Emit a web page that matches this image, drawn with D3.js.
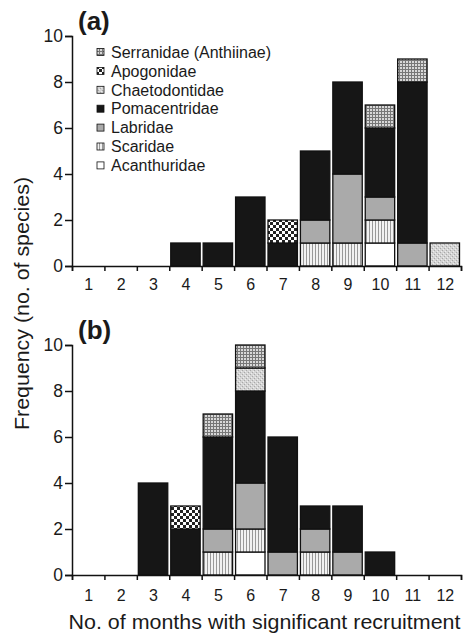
<!DOCTYPE html>
<html><head><meta charset="utf-8">
<script src="https://cdn.jsdelivr.net/npm/d3@7/dist/d3.min.js"></script>
<style>
body{margin:0;background:#fff;}
text{font-family:"Liberation Sans",Arial,sans-serif;fill:#1a1a1a;}
</style></head>
<body><svg id="c" width="463" height="638"></svg>
<script>
const months = [1,2,3,4,5,6,7,8,9,10,11,12];
const families = ["Acanthuridae","Scaridae","Labridae","Pomacentridae","Chaetodontidae","Apogonidae","Serranidae (Anthiinae)"];
const legendOrder = ["Serranidae (Anthiinae)","Apogonidae","Chaetodontidae","Pomacentridae","Labridae","Scaridae","Acanthuridae"];
// panel (a) counts per month, one array per family
const aAcanthuridae   = [0,0,0,0,0,0,0,0,0,1,0,0];
const aScaridae       = [0,0,0,0,0,0,0,1,1,1,0,0];
const aLabridae       = [0,0,0,0,0,0,0,1,3,1,1,0];
const aPomacentridae  = [0,0,0,1,1,3,1,3,4,3,7,0];
const aChaetodontidae = [0,0,0,0,0,0,0,0,0,0,0,1];
const aApogonidae     = [0,0,0,0,0,0,1,0,0,0,0,0];
const aSerranidae     = [0,0,0,0,0,0,0,0,0,1,1,0];
// panel (b)
const bAcanthuridae   = [0,0,0,0,0,1,0,0,0,0,0,0];
const bScaridae       = [0,0,0,0,1,1,0,1,0,0,0,0];
const bLabridae       = [0,0,0,0,1,2,1,1,1,0,0,0];
const bPomacentridae  = [0,0,4,2,4,4,5,1,2,1,0,0];
const bChaetodontidae = [0,0,0,0,0,1,0,0,0,0,0,0];
const bApogonidae     = [0,0,0,1,0,0,0,0,0,0,0,0];
const bSerranidae     = [0,0,0,0,1,1,0,0,0,0,0,0];
const yTicks = [0,2,4,6,8,10];

const svg = d3.select("#c");
const defs = svg.append("defs");
function pat(id,w,h,bg,draw){
  const p = defs.append("pattern").attr("id",id).attr("patternUnits","userSpaceOnUse").attr("width",w).attr("height",h);
  p.append("rect").attr("width",w).attr("height",h).attr("fill",bg);
  draw(p);
}
pat("pSerr",3,3,"#d8d8d8",p=>{
  p.append("rect").attr("x",0).attr("y",0).attr("width",3).attr("height",1).attr("fill","#777");
  p.append("rect").attr("x",0).attr("y",0).attr("width",1).attr("height",3).attr("fill","#777");
});
pat("pApo",6,6,"#fff",p=>{
  p.append("rect").attr("x",0).attr("y",0).attr("width",3).attr("height",3).attr("fill","#222");
  p.append("rect").attr("x",3).attr("y",3).attr("width",3).attr("height",3).attr("fill","#222");
});
pat("pChae",4,4,"#d4d4d4",p=>{
  p.append("rect").attr("x",0).attr("y",0).attr("width",1).attr("height",1).attr("fill","#a8a8a8");
  p.append("rect").attr("x",2).attr("y",2).attr("width",1).attr("height",1).attr("fill","#a8a8a8");
  p.append("rect").attr("x",1).attr("y",3).attr("width",1).attr("height",1).attr("fill","#eee");
  p.append("rect").attr("x",3).attr("y",1).attr("width",1).attr("height",1).attr("fill","#eee");
});
pat("pScar",3,3,"#f2f2f2",p=>{
  p.append("rect").attr("x",0).attr("y",0).attr("width",1).attr("height",3).attr("fill","#999");
});
const fills = {
  "Acanthuridae":"#ffffff",
  "Scaridae":"url(#pScar)",
  "Labridae":"#aaaaaa",
  "Pomacentridae":"#161616",
  "Chaetodontidae":"url(#pChae)",
  "Apogonidae":"url(#pApo)",
  "Serranidae (Anthiinae)":"url(#pSerr)"
};

const x = d3.scaleLinear().domain([0.5,12.5]).range([72,461]);
const bw = x(1)-x(0);
const FONT = "Liberation Sans, Arial, sans-serif";

function panel(data, y0, labelPad, tag){
  const y = d3.scaleLinear().domain([0,10]).range([y0, y0-230]);
  const g = svg.append("g");
  const rows = months.map((m,i)=>{const r={month:m}; families.forEach(f=>r[f]=data[f][i]); return r;});
  const series = d3.stack().keys(families)(rows);
  series.forEach(s=>{
    g.append("g").selectAll("rect").data(s.filter(d=>d[1]>d[0])).join("rect")
      .attr("x",d=>x(d.data.month-0.5)+1.5)
      .attr("width",bw-3)
      .attr("y",d=>y(d[1]))
      .attr("height",d=>y(d[0])-y(d[1]))
      .attr("fill",fills[s.key])
      .attr("stroke","#111").attr("stroke-width",1.3);
  });
  const ya = g.append("g").attr("transform",`translate(${x(0.5)},0)`)
    .call(d3.axisLeft(y).tickValues(yTicks).tickSize(7).tickPadding(2).tickFormat(d3.format("d")));
  ya.select(".domain").attr("stroke","#111").attr("stroke-width",1.5);
  ya.selectAll(".tick line").attr("stroke","#111").attr("stroke-width",1.5);
  ya.selectAll("text").attr("font-size",17.5).attr("font-family",FONT).attr("fill","#1a1a1a");
  const xa = g.append("g").attr("transform",`translate(0,${y0})`)
    .call(d3.axisBottom(x).tickValues(d3.range(0.5,13,1)).tickSize(5).tickFormat(""));
  xa.select(".domain").attr("stroke","#111").attr("stroke-width",1.5);
  xa.selectAll(".tick line").attr("stroke","#111").attr("stroke-width",1.5);
  const xl = g.append("g").attr("transform",`translate(0,${y0})`)
    .call(d3.axisBottom(x).tickValues(months).tickSize(0).tickPadding(labelPad).tickFormat(d3.format("d")));
  xl.select(".domain").remove();
  xl.selectAll("text").attr("font-size",16).attr("font-family",FONT).attr("fill","#1a1a1a");
  g.append("text").attr("x",78).attr("y",y0-236).attr("font-size",26).attr("font-weight","bold").text(tag);
  return y;
}
const dataA = {}, dataB = {};
[["Acanthuridae",aAcanthuridae,bAcanthuridae],["Scaridae",aScaridae,bScaridae],["Labridae",aLabridae,bLabridae],
 ["Pomacentridae",aPomacentridae,bPomacentridae],["Chaetodontidae",aChaetodontidae,bChaetodontidae],
 ["Apogonidae",aApogonidae,bApogonidae],["Serranidae (Anthiinae)",aSerranidae,bSerranidae]].forEach(([k,a,b])=>{dataA[k]=a;dataB[k]=b;});

panel(dataA, 266, 13, "(a)");
panel(dataB, 575, 15, "(b)");

const lg = svg.append("g");
legendOrder.forEach((k,i)=>{
  const cy = 52 + i*18.9;
  lg.append("rect").attr("x",97).attr("y",cy-3.5).attr("width",7).attr("height",7)
    .attr("fill",fills[k]).attr("stroke","#111").attr("stroke-width",0.8);
  lg.append("text").attr("x",111).attr("y",cy+5.7).attr("font-size",16).text(k);
});

svg.append("text").attr("transform","translate(29,303.5) rotate(-90)").attr("text-anchor","middle")
  .attr("font-size",20).attr("textLength",253).attr("lengthAdjust","spacingAndGlyphs").text("Frequency (no. of species)");
svg.append("text").attr("x",264.5).attr("y",629).attr("text-anchor","middle")
  .attr("font-size",20.5).attr("textLength",392).attr("lengthAdjust","spacingAndGlyphs").text("No. of months with significant recruitment");
</script></body></html>
